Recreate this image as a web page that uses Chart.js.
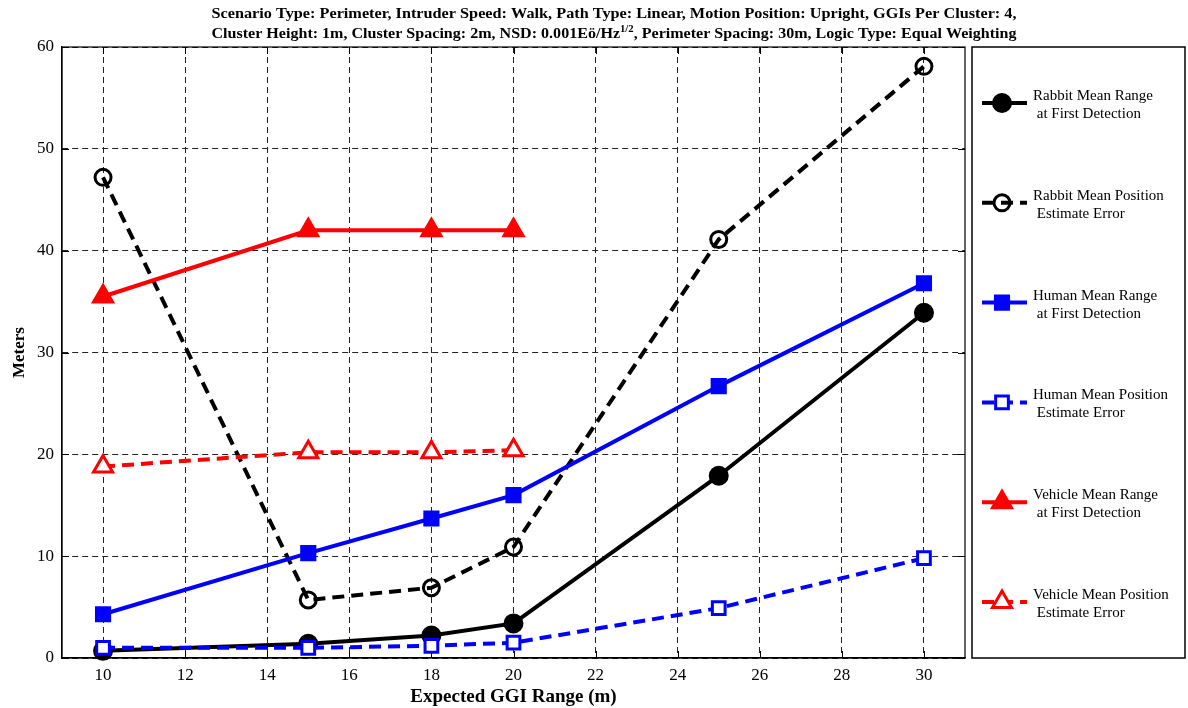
<!DOCTYPE html>
<html>
<head>
<meta charset="utf-8">
<script src="https://cdn.jsdelivr.net/npm/chart.js@4.4.0/dist/chart.umd.min.js"></script>
<style>
  html, body { margin: 0; padding: 0; background: #fff; }
</style>
</head>
<body>
<canvas id="ggiChart" width="1188" height="708"></canvas>
<script>
// expected GGI range (m) for each run
const ggiRange = [10, 15, 18, 20, 25, 30];
const vehicleGgiRange = [10, 15, 18, 20];

// meters
const rabbitMeanRange = [0.7, 1.4, 2.2, 3.4, 17.9, 33.9];
const rabbitPosError = [47.2, 5.7, 6.9, 10.9, 41.1, 58.1];
const humanMeanRange = [4.3, 10.3, 13.7, 16.0, 26.7, 36.8];
const humanPosError = [1.0, 1.0, 1.2, 1.5, 4.9, 9.8];
const vehicleMeanRange = [35.5, 42.0, 42.0, 42.0];
const vehiclePosError = [18.8, 20.2, 20.2, 20.4];

const seriesNames = [
  ['Rabbit Mean Range', ' at First Detection'],
  ['Rabbit Mean Position', ' Estimate Error'],
  ['Human Mean Range', ' at First Detection'],
  ['Human Mean Position', ' Estimate Error'],
  ['Vehicle Mean Range', ' at First Detection'],
  ['Vehicle Mean Position', ' Estimate Error']
];

const xTicks = [10, 12, 14, 16, 18, 20, 22, 24, 26, 28, 30];
const yTicks = [0, 10, 20, 30, 40, 50, 60];

const SERIF = '"Liberation Serif", "Times New Roman", serif';
const DASH = [12, 7];

function pts(xs, ys) {
  return ys.map((y, i) => ({ x: xs[i], y: y }));
}

function series(idx, xs, ys, color, dashed, style, radius, fill, bw) {
  return {
    label: seriesNames[idx].join(''),
    data: pts(xs, ys),
    borderColor: color,
    borderWidth: 4,
    borderDash: dashed ? DASH : [],
    pointStyle: style,
    pointRadius: radius,
    pointHoverRadius: radius,
    pointBorderWidth: bw,
    pointBorderColor: color,
    pointBackgroundColor: fill,
    tension: 0,
    clip: false,
    order: 5 - idx
  };
}

const datasets = [
  series(0, ggiRange, rabbitMeanRange, '#000', false, 'circle', 9, '#000', 2),
  series(1, ggiRange, rabbitPosError, '#000', true, 'circle', 8, 'rgba(0,0,0,0)', 3),
  series(2, ggiRange, humanMeanRange, '#0000ff', false, 'rect', 10, '#0000ff', 2),
  series(3, ggiRange, humanPosError, '#0000ff', true, 'rect', 9, '#fff', 3),
  series(4, vehicleGgiRange, vehicleMeanRange, '#ff0000', false, 'triangle', 12, '#ff0000', 2),
  series(5, vehicleGgiRange, vehiclePosError, '#ff0000', true, 'triangle', 11, '#fff', 3)
];

// plot frame (top/right edges) and inward tick marks
const framePlugin = {
  id: 'frame',
  beforeDatasetsDraw(chart) {
    const { ctx, chartArea: a, scales } = chart;
    ctx.save();
    ctx.strokeStyle = '#000';
    ctx.lineWidth = 1.2;
    ctx.strokeRect(a.left, a.top, a.right - a.left, a.bottom - a.top);
    ctx.lineWidth = 1;
    ctx.beginPath();
    xTicks.forEach(v => {
      const x = Math.round(scales.x.getPixelForValue(v)) + 0.5;
      ctx.moveTo(x, a.bottom); ctx.lineTo(x, a.bottom - 7);
      ctx.moveTo(x, a.top); ctx.lineTo(x, a.top + 7);
    });
    yTicks.forEach(v => {
      const y = Math.round(scales.y.getPixelForValue(v)) + 0.5;
      ctx.moveTo(a.left, y); ctx.lineTo(a.left + 7, y);
      ctx.moveTo(a.right, y); ctx.lineTo(a.right - 7, y);
    });
    ctx.stroke();
    ctx.restore();
  }
};

// two-line title with a superscript, set in a condensed width
const titlePlugin = {
  id: 'twoLineTitle',
  afterDraw(chart) {
    const ctx = chart.ctx;
    const cx = 614, targetW = 805;
    ctx.save();
    ctx.fillStyle = '#000';
    ctx.textBaseline = 'middle';
    ctx.textAlign = 'left';
    const main = 'bold 15px ' + SERIF;
    const sup = 'bold 10px ' + SERIF;

    const line1 = 'Scenario Type: Perimeter, Intruder Speed: Walk, Path Type: Linear, Motion Position: Upright, GGIs Per Cluster: 4,';
    ctx.font = main;
    const w1 = ctx.measureText(line1).width;
    const s1 = targetW / w1;
    ctx.save();
    ctx.translate(cx - targetW / 2, 14);
    ctx.scale(s1, 1);
    ctx.fillText(line1, 0, 0);
    ctx.restore();

    const partA = 'Cluster Height: 1m, Cluster Spacing: 2m, NSD: 0.001E\u00f6/Hz';
    const partSup = '1/2';
    const partB = ', Perimeter Spacing: 30m, Logic Type: Equal Weighting';
    ctx.font = main;
    const wa = ctx.measureText(partA).width;
    const wb = ctx.measureText(partB).width;
    ctx.font = sup;
    const ws = ctx.measureText(partSup).width;
    const w2 = wa + ws + wb;
    const s2 = targetW / w2;
    ctx.save();
    ctx.translate(cx - targetW / 2, 34);
    ctx.scale(s2, 1);
    ctx.font = main;
    ctx.fillText(partA, 0, 0);
    ctx.font = sup;
    ctx.fillText(partSup, wa, -5);
    ctx.font = main;
    ctx.fillText(partB, wa + ws, 0);
    ctx.restore();
    ctx.restore();
  }
};

// boxed legend to the right of the plot
const legendPlugin = {
  id: 'boxLegend',
  afterDraw(chart) {
    const ctx = chart.ctx;
    const a = chart.chartArea;
    const box = { left: 972, top: a.top, right: 1185, bottom: a.bottom };
    ctx.save();
    ctx.strokeStyle = '#000';
    ctx.lineWidth = 1.5;
    ctx.strokeRect(box.left, box.top, box.right - box.left, box.bottom - box.top);

    const drawPoint = Chart.helpers.drawPoint;
    datasets.forEach((ds, i) => {
      const y = 103 + i * 99.8;
      ctx.save();
      ctx.strokeStyle = ds.borderColor;
      ctx.lineWidth = ds.borderWidth;
      ctx.setLineDash(ds.borderDash);
      ctx.beginPath();
      ctx.moveTo(982, y);
      ctx.lineTo(1027, y);
      ctx.stroke();
      ctx.setLineDash([]);
      ctx.fillStyle = ds.pointBackgroundColor;
      ctx.strokeStyle = ds.pointBorderColor;
      ctx.lineWidth = ds.pointBorderWidth;
      drawPoint(ctx, {
        pointStyle: ds.pointStyle,
        rotation: 0,
        radius: ds.pointRadius,
        borderWidth: ds.pointBorderWidth
      }, 1002, y);
      ctx.restore();

      ctx.fillStyle = '#000';
      ctx.font = '15px ' + SERIF;
      ctx.textBaseline = 'middle';
      ctx.textAlign = 'left';
      ctx.fillText(seriesNames[i][0], 1033, y - 7);
      ctx.fillText(seriesNames[i][1], 1033, y + 11);
    });
    ctx.restore();
  }
};

new Chart(document.getElementById('ggiChart'), {
  type: 'line',
  data: { datasets: datasets },
  plugins: [framePlugin, titlePlugin, legendPlugin],
  options: {
    responsive: false,
    animation: false,
    layout: { padding: { left: 0, top: 47, right: 223, bottom: 0 } },
    plugins: {
      legend: { display: false },
      title: { display: false },
      tooltip: { enabled: false }
    },
    scales: {
      x: {
        type: 'linear',
        min: 9,
        max: 31,
        afterFit(scale) { scale.height = 50; },
        afterBuildTicks(scale) { scale.ticks = xTicks.map(v => ({ value: v })); },
        grid: { color: '#222', lineWidth: 1, drawTicks: false },
        border: { display: true, color: '#000', width: 1.2, dash: [6, 4] },
        ticks: {
          padding: 7,
          color: '#000',
          font: { family: SERIF, size: 17 }
        },
        title: {
          display: true,
          text: 'Expected GGI Range (m)',
          color: '#000',
          font: { family: SERIF, size: 19, weight: 'bold' },
          padding: { top: 3, bottom: 0 }
        }
      },
      y: {
        type: 'linear',
        min: 0,
        max: 60,
        afterFit(scale) { scale.width = 62; },
        afterBuildTicks(scale) { scale.ticks = yTicks.map(v => ({ value: v })); },
        grid: { color: '#222', lineWidth: 1, drawTicks: false },
        border: { display: true, color: '#000', width: 1.2, dash: [6, 4] },
        ticks: {
          padding: 8,
          color: '#000',
          font: { family: SERIF, size: 17 }
        },
        title: {
          display: true,
          text: 'Meters',
          color: '#000',
          font: { family: SERIF, size: 17, weight: 'bold' },
          padding: { top: 9, bottom: 0 }
        }
      }
    }
  }
});
</script>
</body>
</html>
